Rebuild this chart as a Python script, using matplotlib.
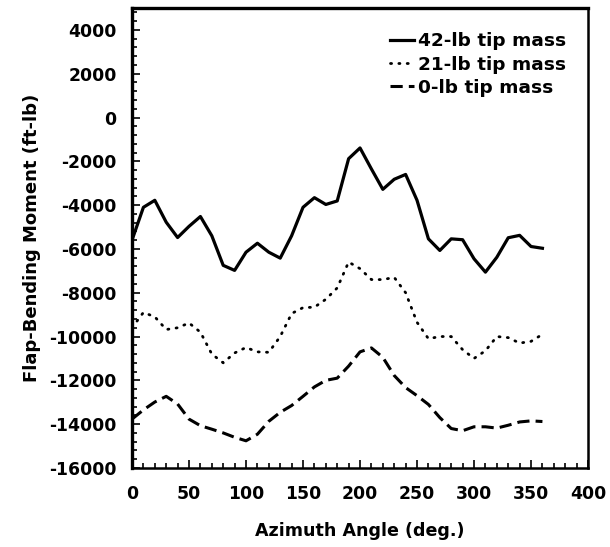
import matplotlib
matplotlib.use("Agg")
import matplotlib.pyplot as plt
from matplotlib.ticker import MultipleLocator

azimuth = list(range(0, 370, 10))
moment_42lb = [-5600, -4100, -3780, -4780, -5480, -4970, -4520, -5400, -6750, -6980,
               -6150, -5740, -6150, -6420, -5400, -4100, -3660, -3970, -3810, -1880,
               -1390, -2350, -3280, -2820, -2600, -3780, -5540, -6070, -5540, -5580,
               -6450, -7060, -6380, -5490, -5380, -5890, -5970]
moment_21lb = [-9600, -8900, -9100, -9680, -9600, -9380, -9800, -10800, -11200, -10750,
               -10500, -10700, -10720, -10000, -8950, -8680, -8660, -8300, -7780, -6600,
               -6900, -7400, -7400, -7300, -8000, -9350, -10100, -10000, -10000, -10600,
               -11000, -10650, -10000, -10050, -10300, -10220, -9900]
moment_0lb = [-13770, -13350, -12990, -12730, -13080, -13770, -14070, -14230, -14400, -14600,
              -14760, -14460, -13870, -13460, -13150, -12730, -12300, -12000, -11900, -11350,
              -10700, -10520, -10950, -11780, -12330, -12700, -13100, -13700, -14200, -14300,
              -14120, -14120, -14180, -14050, -13900, -13850, -13880]
labels = ["42-lb tip mass", "21-lb tip mass", "0-lb tip mass"]
x_ticks = [0, 50, 100, 150, 200, 250, 300, 350, 400]
y_ticks = [4000, 2000, 0, -2000, -4000, -6000, -8000, -10000, -12000, -14000, -16000]

plt.rcParams['font.family'] = ['DejaVu Sans']
plt.rcParams['font.weight'] = 'bold'
plt.rcParams['axes.unicode_minus'] = False

fig = plt.figure(figsize=(6.10, 5.47), dpi=100)
ax = fig.add_axes([0.2164, 0.1445, 0.964 - 0.2164, 0.9854 - 0.1445])

ax.plot(azimuth, moment_42lb, color='black', lw=2.3, label=labels[0], solid_joinstyle='round')
ax.plot(azimuth, moment_21lb, color='black', lw=2.0, linestyle=(0, (0.4, 2.6)),
        dash_capstyle='round', label=labels[1])
ax.plot(azimuth, moment_0lb, color='black', lw=2.2, linestyle=(0, (4, 2)), label=labels[2])

ax.set_xlim(0, 400)
ax.set_ylim(-16000, 5000)
ax.set_xticks(x_ticks)
ax.set_yticks(y_ticks)
ax.xaxis.set_minor_locator(MultipleLocator(10))
ax.yaxis.set_minor_locator(MultipleLocator(400))
ax.tick_params(which='both', direction='in', top=False, right=False, width=1.2)
ax.tick_params(which='major', length=6, labelsize=12.4)
ax.tick_params(axis='y', which='major', pad=11)
ax.tick_params(axis='x', which='major', pad=12)
ax.tick_params(which='minor', length=3.5)
for lab in ax.get_xticklabels() + ax.get_yticklabels():
    lab.set_fontweight('bold')
ax.spines['left'].set_linewidth(2.4)
ax.spines['top'].set_linewidth(2.4)
ax.spines['bottom'].set_linewidth(1.8)
ax.spines['right'].set_linewidth(1.8)

ax.set_xlabel("Azimuth Angle (deg.)", fontsize=12.6, fontweight='bold', labelpad=14)
ax.set_ylabel("Flap-Bending Moment (ft-lb)", fontsize=13, fontweight='bold', labelpad=6)

leg = ax.legend(loc='upper right', bbox_to_anchor=(0.952, 0.947), frameon=False,
                borderpad=0, borderaxespad=0,
                handlelength=1.3, handletextpad=0.2, labelspacing=0.28,
                prop={'size': 13.3, 'weight': 'bold'})

fig.savefig("out.png", dpi=100)
